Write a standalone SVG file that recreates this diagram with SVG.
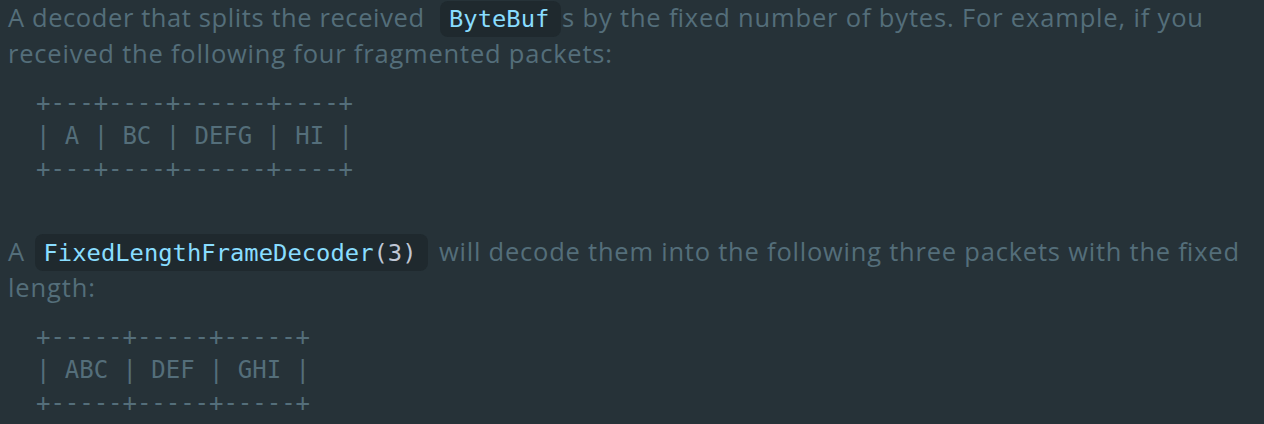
<svg xmlns="http://www.w3.org/2000/svg" width="1264" height="424" viewBox="0 0 1264 424">
<style>
.body{font-family:"Open Sans","Noto Sans",sans-serif;font-size:25.5px;fill:#546E7A}
.code{font-family:"DejaVu Sans Mono","Liberation Mono",monospace;font-size:23.8px;fill:#89DDFF}
.paren{fill:#BFC7D5}
.ascii{font-family:"DejaVu Sans Mono","Liberation Mono",monospace;font-size:24px;fill:#546E7A;white-space:pre}
.codebg{fill:#1F292E}
</style>
<rect width="1264" height="424" fill="#263238"/>
<g id="para1">
<text class="body" x="8" y="27" textLength="416" lengthAdjust="spacing">A decoder that splits the received</text>
<rect class="codebg" x="440" y="1" width="121" height="36" rx="8"/>
<text class="code" x="449" y="27">ByteBuf</text>
<text class="body" x="562" y="27" textLength="641" lengthAdjust="spacing">s by the fixed number of bytes. For example, if you</text>
<text class="body" x="8" y="63" textLength="604" lengthAdjust="spacing">received the following four fragmented packets:</text>
</g>
<g id="packets-in">
<text class="ascii" x="36" y="111" textLength="317" lengthAdjust="spacing">+---+----+------+----+</text>
<text class="ascii" x="36" y="144" textLength="317" lengthAdjust="spacing">| A | BC | DEFG | HI |</text>
<text class="ascii" x="36" y="177" textLength="317" lengthAdjust="spacing">+---+----+------+----+</text>
</g>
<g id="para2">
<text class="body" x="8" y="261">A</text>
<rect class="codebg" x="35" y="234" width="393" height="37" rx="8"/>
<text class="code" x="43.5" y="261" textLength="373" lengthAdjust="spacing">FixedLengthFrameDecoder<tspan class="paren">(3)</tspan></text>
<text class="body" x="439" y="261" textLength="800" lengthAdjust="spacing">will decode them into the following three packets with the fixed</text>
<text class="body" x="8" y="297" textLength="87" lengthAdjust="spacing">length:</text>
</g>
<g id="packets-out">
<text class="ascii" x="36" y="345" textLength="274" lengthAdjust="spacing">+-----+-----+-----+</text>
<text class="ascii" x="36" y="378" textLength="274" lengthAdjust="spacing">| ABC | DEF | GHI |</text>
<text class="ascii" x="36" y="411" textLength="274" lengthAdjust="spacing">+-----+-----+-----+</text>
</g>
</svg>
